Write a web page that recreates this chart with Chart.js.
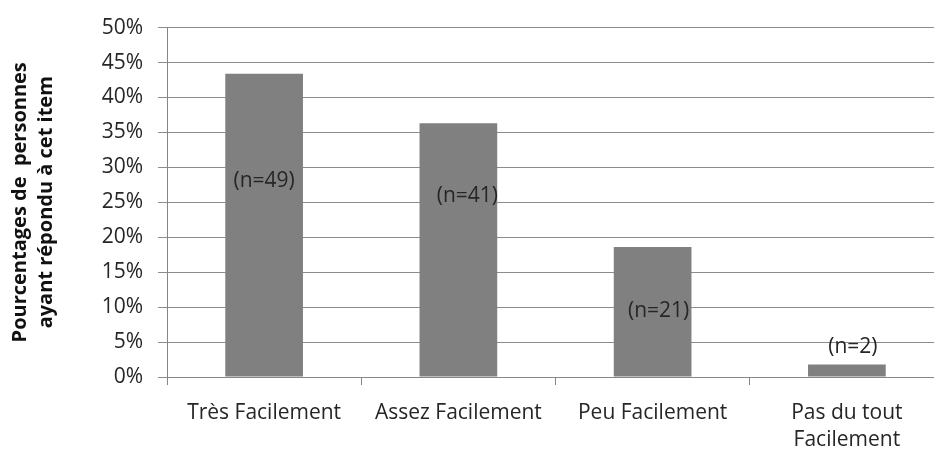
<!DOCTYPE html>
<html>
<head>
<meta charset="utf-8">
<script src="https://cdn.jsdelivr.net/npm/chart.js@4.4.1/dist/chart.umd.min.js"></script>
<style>
  html, body { margin: 0; padding: 0; background: #fff; overflow: hidden; }
  #wrap { width: 944px; height: 452px; }
</style>
</head>
<body>
<div id="wrap"><canvas id="myChart" width="944" height="452"></canvas></div>
<script>
const categories = ['Très Facilement', 'Assez Facilement', 'Peu Facilement', ['Pas du tout', 'Facilement']];
const percentages = [43.4, 36.3, 18.6, 1.8];
const counts = ['(n=49)', '(n=41)', '(n=21)', '(n=2)'];

const FONT = "'Open Sans', sans-serif";

// labels "(n=..)" placed like the original (value on y scale where label sits, x shift in px)
const countLabels = {
    id: 'countLabels',
    afterDatasetsDraw(chart, args, opts) {
        const ctx = chart.ctx;
        const meta = chart.getDatasetMeta(0);
        const y = chart.scales.y;
        ctx.save();
        ctx.font = '21px ' + FONT;
        ctx.fillStyle = '#262626';
        ctx.textAlign = 'center';
        ctx.textBaseline = 'middle';
        meta.data.forEach((bar, i) => {
            ctx.fillText(counts[i], bar.x + opts.dx[i], y.getPixelForValue(opts.at[i]));
        });
        ctx.restore();
    }
};

const ctx = document.getElementById('myChart').getContext('2d');

new Chart(ctx, {
    type: 'bar',
    data: {
        labels: categories,
        datasets: [{
            data: percentages,
            backgroundColor: '#808080',
            categoryPercentage: 1,
            barPercentage: 0.4
        }]
    },
    options: {
        responsive: false,
        animation: false,
        layout: { padding: { top: 23, right: 0, left: 7, bottom: 0 } },
        plugins: {
            legend: { display: false },
            tooltip: { enabled: false },
            countLabels: { at: [28, 25.9, 9.5, 4.3], dx: [0, 9, 6, 6] }
        },
        scales: {
            x: {
                grid: {
                    offset: true,
                    drawOnChartArea: false,
                    color: '#868686',
                    tickLength: 8
                },
                border: { color: '#868686' },
                ticks: {
                    color: '#262626',
                    font: { family: FONT, size: 21, lineHeight: 1.3 },
                    maxRotation: 0,
                    padding: 14
                },
                afterFit(scale) { scale.height = 75; }
            },
            y: {
                min: 0,
                max: 50,
                ticks: {
                    stepSize: 5,
                    color: '#262626',
                    font: { family: FONT, size: 21 },
                    padding: 15,
                    callback: v => v + '%'
                },
                grid: {
                    color: '#8c8c8c',
                    tickLength: 9
                },
                border: { color: '#868686' },
                title: {
                    display: true,
                    text: ['Pourcentages de  personnes', 'ayant répondu à cet item'],
                    color: '#111',
                    font: { family: FONT, size: 20, weight: 'bold', lineHeight: 1.3 },
                    padding: 0
                },
                afterFit(scale) { scale.width = 160; }
            }
        }
    },
    plugins: [countLabels]
});
</script>
</body>
</html>
